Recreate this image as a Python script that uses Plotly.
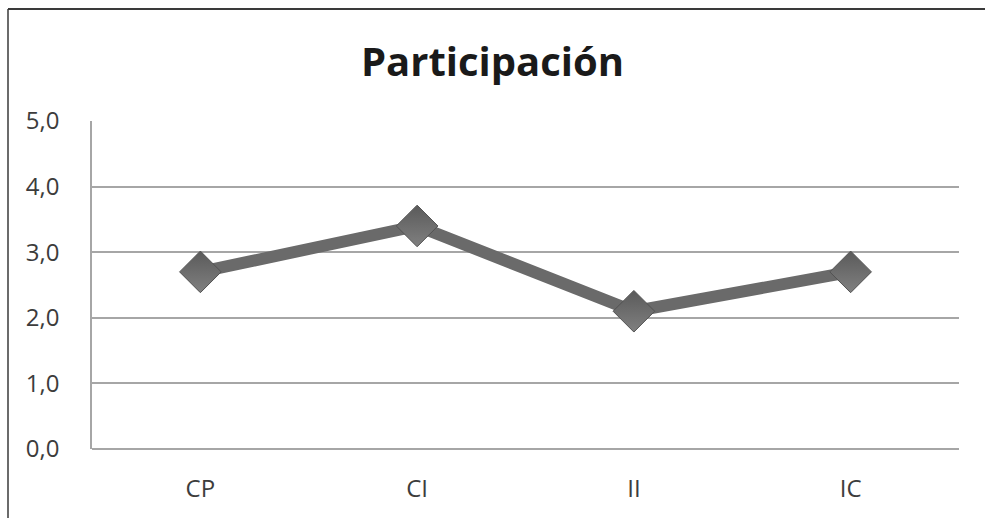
import plotly.graph_objects as go

# Participation scores per dimension
categories = ["CP", "CI", "II", "IC"]
scores = [2.7, 3.4, 2.1, 2.7]
y_ticks = [0, 1, 2, 3, 4, 5]

W, H = 985, 518
L, R, T, B = 92, 26, 121, 69
plot_w = W - L - R
plot_h = H - T - B


def px_to_paper_x(px):
    return (px - L) / plot_w


def px_to_paper_y(py):
    return (H - B - py) / plot_h


fig = go.Figure()

fig.add_trace(go.Scatter(
    x=categories,
    y=scores,
    mode="lines+markers",
    line=dict(color="#6a6a6a", width=12),
    marker=dict(
        symbol="diamond",
        size=32,
        color="#5a5a5a",
        gradient=dict(type="vertical", color="#808080"),
        line=dict(color="#525252", width=1),
    ),
    hoverinfo="x+y",
))

label_font = dict(family="Open Sans, sans-serif", size=24, color="#3c3c3c")

fig.update_layout(
    width=W,
    height=H,
    margin=dict(l=L, r=R, t=T, b=B),
    paper_bgcolor="white",
    plot_bgcolor="white",
    separators=",.",
    showlegend=False,
    title=dict(
        text="<b>Participación</b>",
        font=dict(family="Open Sans, sans-serif", size=40, color="#1a1a1a"),
        x=0.5,
        xref="container",
        xanchor="center",
        y=1 - 62 / H,
        yref="container",
        yanchor="middle",
    ),
    xaxis=dict(
        type="category",
        range=[-0.5, len(categories) - 0.5],
        showgrid=False,
        showline=False,
        zeroline=False,
        tickfont=label_font,
        ticks="",
        ticklabelstandoff=23,
        fixedrange=True,
    ),
    yaxis=dict(
        range=[0, 5],
        tickvals=y_ticks,
        tickformat=".1f",
        showgrid=True,
        gridcolor="#a6a6a6",
        gridwidth=1.5,
        showline=True,
        linecolor="#a6a6a6",
        linewidth=1.5,
        zeroline=True,
        zerolinecolor="#a6a6a6",
        zerolinewidth=1.5,
        tickfont=label_font,
        ticks="",
        ticklabelstandoff=26,
        fixedrange=True,
    ),
    shapes=[
        # outer frame: top and left edges
        dict(type="line", xref="paper", yref="paper",
             x0=px_to_paper_x(8), x1=px_to_paper_x(W + 2),
             y0=px_to_paper_y(9), y1=px_to_paper_y(9),
             line=dict(color="#3a3a3a", width=2)),
        dict(type="line", xref="paper", yref="paper",
             x0=px_to_paper_x(8), x1=px_to_paper_x(8),
             y0=px_to_paper_y(9), y1=px_to_paper_y(H + 2),
             line=dict(color="#3a3a3a", width=1.5)),
    ],
)

fig.write_html("out.html")
